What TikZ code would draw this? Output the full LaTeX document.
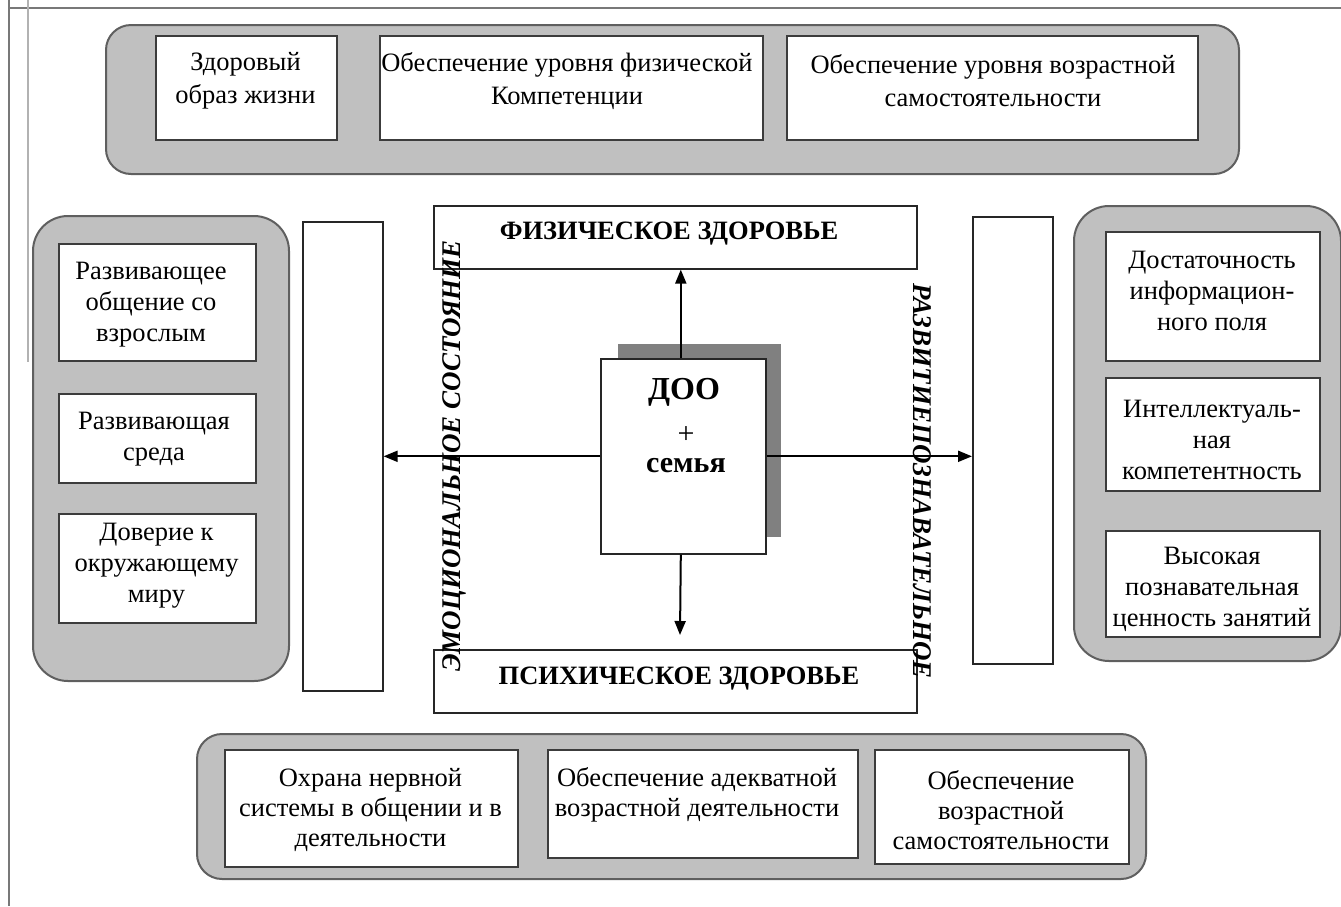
\documentclass[tikz,border=0pt]{standalone}
\usepackage{fontspec}
\setmainfont{Liberation Serif}
\usetikzlibrary{arrows.meta}
\definecolor{grayfill}{RGB}{192,192,192}
\definecolor{contline}{RGB}{95,95,95}
\definecolor{boxline}{RGB}{60,60,60}
\definecolor{shadowc}{RGB}{128,128,128}
\definecolor{framec}{RGB}{120,120,120}
\tikzset{
  cont/.style={draw=contline, line width=2pt, fill=grayfill, rounded corners=#1, inner sep=0pt, anchor=north west},
  ibox/.style={draw=boxline, line width=2.2pt, fill=white, inner sep=0pt, anchor=north west},
  wbox/.style={draw=black!85, line width=1.6pt, fill=white, inner sep=0pt, anchor=north west},
  lbl/.style={font=\fontsize{26.5}{31}\selectfont, align=center, inner sep=0pt},
  lbltop/.style={font=\fontsize{26.5}{33}\selectfont, align=center, inner sep=0pt},
  lblbot/.style={font=\fontsize{26.5}{30}\selectfont, align=center, inner sep=0pt},
  head/.style={font=\fontsize{26.5}{30}\bfseries\selectfont, inner sep=0pt},
  side/.style={font=\fontsize{27}{30}\bfseries\itshape\selectfont, inner sep=0pt},
  arr/.style={draw=black, line width=2pt, -{Triangle[length=14pt,width=11pt]}},
  framel/.style={draw=framec, line width=2pt}
}
\begin{document}
\begin{tikzpicture}[x=1pt,y=-1pt]
\useasboundingbox (0,0) rectangle (1341,906);
% frame lines
\coordinate (f1) at (9,0); \coordinate (f2) at (9,906);
\coordinate (f3) at (9,8); \coordinate (f4) at (1341,8);
\coordinate (f5) at (28,0); \coordinate (f6) at (28,362);
\draw[framel] (f1) -- (f2);
\draw[framel] (f3) -- (f4);
\draw[draw=black!30, line width=2pt] (f5) -- (f6);

% top group
\node[cont=25pt, minimum width=1133pt, minimum height=149pt] (topc) at (105,24) {};
\node[ibox, minimum width=181pt, minimum height=104pt] (t1) at (155,35) {};
\node[ibox, minimum width=383pt, minimum height=104pt] (t2) at (379,35) {};
\node[ibox, minimum width=411pt, minimum height=104pt] (t3) at (786,35) {};
\node[lbltop] (t1x) at (245.5,81) {Здоровый\\образ жизни};
\node[lbltop] (t2x) at (567,81) {Обеспечение уровня физической\\Компетенции};
\node[lbltop] (t3x) at (993,81) {Обеспечение уровня возрастной\\самостоятельности};

% left group
\node[cont=35pt, minimum width=256pt, minimum height=465pt] (leftc) at (32,215) {};
\node[ibox, minimum width=197pt, minimum height=117pt] (l1) at (58,243) {};
\node[ibox, minimum width=197pt, minimum height=89pt] (l2) at (58,393) {};
\node[ibox, minimum width=197pt, minimum height=109pt] (l3) at (58,513) {};
\node[lbl] (l1x) at (151,305) {Развивающее\\общение со\\взрослым};
\node[lbl] (l2x) at (154,439) {Развивающая\\среда};
\node[lbl] (l3x) at (156.5,566) {Доверие к\\окружающему\\миру};
\node[wbox, minimum width=80pt, minimum height=469pt] (ltall) at (302,221) {};

% right group
\node[wbox, minimum width=80pt, minimum height=447pt] (rtall) at (972,216) {};
\node[cont=35pt, minimum width=267pt, minimum height=455pt] (rightc) at (1073,205) {};
\node[ibox, minimum width=214pt, minimum height=129pt] (r1) at (1105,231) {};
\node[ibox, minimum width=214pt, minimum height=113pt] (r2) at (1105,377) {};
\node[ibox, minimum width=214pt, minimum height=106pt] (r3) at (1105,530) {};
\node[lbl] (r1x) at (1212,291) {Достаточность\\информацион-\\ного поля};
\node[lbl] (r2x) at (1212,440) {Интеллектуаль-\\ная\\компетентность};
\node[lbl] (r3x) at (1212,589) {Высокая\\познавательная\\ценность занятий};

% center
\node[wbox, minimum width=483pt, minimum height=63pt] (fiz) at (433,205) {};
\node[wbox, minimum width=483pt, minimum height=63pt] (psy) at (433,649) {};
\node[head] (fizx) at (669,234) {ФИЗИЧЕСКОЕ ЗДОРОВЬЕ};
\node[head] (psyx) at (679,679) {ПСИХИЧЕСКОЕ ЗДОРОВЬЕ};
\node[fill=shadowc, inner sep=0pt, anchor=north west, minimum width=163pt, minimum height=193pt] (shad) at (618,344) {};
\node[wbox, minimum width=165pt, minimum height=195pt] (doo) at (600,358) {};
\node[font=\fontsize{32}{36}\bfseries\selectfont, inner sep=0pt] (doox) at (684,392) {ДОО};
\node[font=\fontsize{30}{34}\selectfont, inner sep=0pt] (plusx) at (686,435) {+};
\node[font=\fontsize{30}{34}\bfseries\selectfont, inner sep=0pt] (semx) at (686,466) {семья};

\node[side, rotate=90] (emo) at (454,456) {ЭМОЦИОНАЛЬНОЕ СОСТОЯНИЕ};
\node[side, rotate=-90] (razv) at (922,481) {РАЗВИТИЕПОЗНАВАТЕЛЬНОЕ};

% arrows
\coordinate (dtip) at (680,635);
\draw[arr] ([xshift=-2.5pt]doo.north) -- ([xshift=-2.5pt]doo.north |- fiz.south);
\draw[arr] ([xshift=-2.5pt]doo.south) -- (dtip);
\draw[arr] (doo.west) -- (doo.west -| ltall.east);
\draw[arr] (doo.east) -- (doo.east -| rtall.west);

% bottom group
\node[cont=25pt, minimum width=949pt, minimum height=145pt] (botc) at (196,733) {};
\node[ibox, minimum width=293pt, minimum height=117pt] (b1) at (224,749) {};
\node[ibox, minimum width=310pt, minimum height=108pt] (b2) at (547,749) {};
\node[ibox, minimum width=254pt, minimum height=114pt] (b3) at (874,749) {};
\node[lblbot] (b1x) at (370.5,810) {Охрана нервной\\системы в общении и в\\деятельности};
\node[lblbot] (b2x) at (697,795) {Обеспечение адекватной\\возрастной деятельности};
\node[lblbot] (b3x) at (1001,810) {Обеспечение\\возрастной\\самостоятельности};
\end{tikzpicture}
\end{document}
